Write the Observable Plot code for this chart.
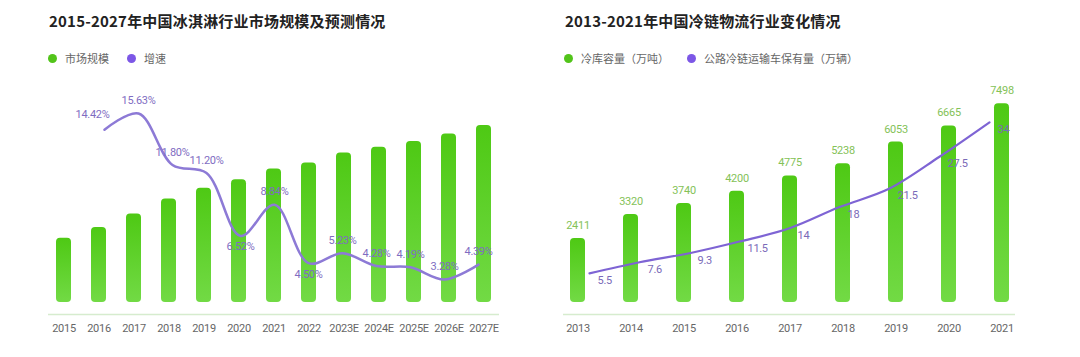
<!DOCTYPE html>
<html><head><meta charset="utf-8">
<script src="https://cdn.jsdelivr.net/npm/d3@7"></script>
<script src="https://cdn.jsdelivr.net/npm/@observablehq/plot@0.6"></script>
<style>
body{margin:0;background:#fff;width:1080px;height:357px;overflow:hidden;position:relative;font-family:"Noto Sans CJK SC","Noto Sans",sans-serif;}
.panel{position:absolute;top:0;width:540px;height:357px;}
.title{position:absolute;top:10px;font-size:15px;line-height:22px;font-weight:700;color:#222;white-space:nowrap;letter-spacing:0.2px;}
.legend{position:absolute;top:49px;height:18px;font-size:11px;color:#666;display:flex;align-items:center;white-space:nowrap;}
.dot{display:inline-block;width:9px;height:9px;border-radius:50%;margin-right:8px;}
.item{display:flex;align-items:center;margin-right:18px;}
.chart{position:absolute;left:0;top:70px;width:540px;height:280px;}
.chart svg{position:absolute;left:0;top:0;}
.chart svg text{letter-spacing:-0.3px;}
</style></head><body>
<div class="panel" style="left:0">
  <div class="title" style="left:49px">2015-2027年中国冰淇淋行业市场规模及预测情况</div>
  <div class="legend" style="left:48px">
    <span class="item"><span class="dot" style="background:#52c41a"></span>市场规模</span>
    <span class="item"><span class="dot" style="background:#7c57e6"></span>增速</span>
  </div>
  <div class="chart" id="c1"></div>
</div>
<div class="panel" style="left:540px">
  <div class="title" style="left:25px">2013-2021年中国冷链物流行业变化情况</div>
  <div class="legend" style="left:24px">
    <span class="item"><span class="dot" style="background:#52c41a"></span>冷库容量（万吨）</span>
    <span class="item"><span class="dot" style="background:#7c57e6"></span>公路冷链运输车保有量（万辆）</span>
  </div>
  <div class="chart" id="c2"></div>
</div>
<script>
// ---- data ----
const years1 = ["2015","2016","2017","2018","2019","2020","2021","2022","2023E","2024E","2025E","2026E","2027E"];
const marketSize = [770, 900, 1060, 1240, 1370, 1470, 1600, 1670, 1790, 1860, 1930, 2020, 2120];
const growth = [null, 14.42, 15.63, 11.80, 11.20, 6.52, 8.84, 4.50, 5.23, 4.28, 4.19, 3.28, 4.39];

const years2 = ["2013","2014","2015","2016","2017","2018","2019","2020","2021"];
const coldStorage = [2411, 3320, 3740, 4200, 4775, 5238, 6053, 6665, 7498];
const vehicles = [5.5, 7.6, 9.3, 11.5, 14, 18, 21.5, 27.5, 34];

// ---- build ----
const numFont = "Roboto,'Noto Sans',sans-serif";
const W = 540, H = 280, MT = 20, MB = 48;

function addGradient(svg, id) {
  d3.select(svg).insert("defs", ":first-child").html(
    `<linearGradient id="${id}" x1="0" y1="0" x2="0" y2="1">
       <stop offset="0" stop-color="#4ec914"/>
       <stop offset="1" stop-color="#72da45"/>
     </linearGradient>`);
}

// Left chart
const d1 = years1.map((y, i) => ({year: y, size: marketSize[i], growth: growth[i]}));
const g1 = d1.filter(d => d.growth != null);
const below1 = new Set(["2020", "2022"]);
const xL = {domain: years1, paddingInner: 0.577, paddingOuter: 0.13, label: null, tickSize: 0, tickPadding: 22};
const bar1 = Plot.plot({
  width: W, height: H, marginLeft: 48, marginRight: 41, marginTop: MT, marginBottom: MB,
  x: xL,
  y: {domain: [0, 2540], axis: null},
  style: {background: "transparent", overflow: "visible", fontFamily: numFont, fontSize: "11px", color: "#666"},
  marks: [
    Plot.ruleY([0], {dy: 12, stroke: "#d6ecce", strokeWidth: 1.5}),
    Plot.barY(d1, {x: "year", y: "size", fill: "url(#gradL)", rx: 4})
  ]
});
addGradient(bar1, "gradL");
const line1 = Plot.plot({
  width: W, height: H, marginLeft: 48, marginRight: 41, marginTop: MT, marginBottom: MB,
  x: {...xL, axis: null},
  y: {domain: [1.57, 17.34], axis: null},
  style: {background: "transparent", overflow: "visible", fontFamily: numFont},
  marks: [
    Plot.line(g1, {x: "year", y: "growth", curve: "catmull-rom", stroke: "#8d7ad6", strokeWidth: 2.5}),
    Plot.text(g1.filter(d => d.year === years1[1]), {x: "year", y: "growth", text: d => d.growth.toFixed(2) + "%", dx: -12, dy: -15, fill: "#7f6dc2", fontSize: 11}),
    Plot.text(g1.filter(d => d.year !== years1[1] && !below1.has(d.year)), {x: "year", y: "growth", text: d => d.growth.toFixed(2) + "%", dy: -13, fill: "#7f6dc2", fontSize: 11}),
    Plot.text(g1.filter(d => below1.has(d.year)), {x: "year", y: "growth", text: d => d.growth.toFixed(2) + "%", dy: 11, fill: "#7f6dc2", fontSize: 11})
  ]
});
document.getElementById("c1").append(bar1, line1);

// Right chart
const d2 = years2.map((y, i) => ({year: y, storage: coldStorage[i], cars: vehicles[i]}));
const xR = {domain: years2, paddingInner: 0.719, paddingOuter: 0.096, label: null, tickSize: 0, tickPadding: 22};
const bar2 = Plot.plot({
  width: W, height: H, marginLeft: 23, marginRight: 65, marginTop: MT, marginBottom: MB,
  x: xR,
  y: {domain: [0, 8000], axis: null},
  style: {background: "transparent", overflow: "visible", fontFamily: numFont, fontSize: "11px", color: "#666"},
  marks: [
    Plot.ruleY([0], {dy: 12, stroke: "#d6ecce", strokeWidth: 1.5}),
    Plot.barY(d2, {x: "year", y: "storage", fill: "url(#gradR)", rx: 4}),
    Plot.text(d2, {x: "year", y: "storage", text: d => String(d.storage), dy: -13, fill: "#84c257", fontSize: 11})
  ]
});
addGradient(bar2, "gradR");
const line2 = Plot.plot({
  width: W, height: H, marginLeft: 23, marginRight: 65, marginTop: MT, marginBottom: MB,
  x: {...xR, axis: null},
  y: {domain: [0, 40], axis: null},
  style: {background: "transparent", overflow: "visible", fontFamily: numFont},
  marks: [
    Plot.line(d2, {x: "year", y: "cars", curve: "catmull-rom", stroke: "#7e64d4", strokeWidth: 2.2}),
    Plot.text(d2, {x: "year", y: "cars", text: d => String(d.cars), textAnchor: "start", dx: 8, dy: 7, fill: "#7a6ab8", fontSize: 11})
  ]
});
document.getElementById("c2").append(bar2, line2);
</script>
</body></html>
